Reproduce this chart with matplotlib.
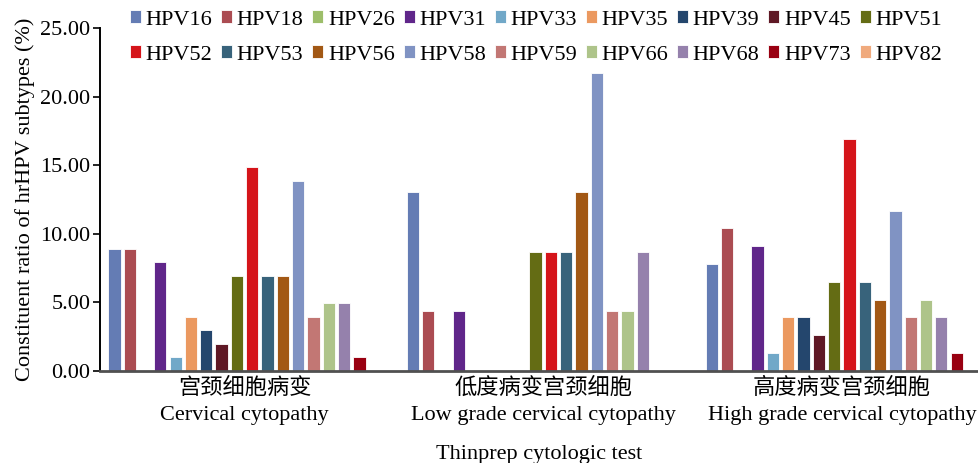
import matplotlib
matplotlib.use("Agg")
import matplotlib.pyplot as plt
import numpy as np

plt.rcParams["font.family"] = ["Liberation Serif", "Noto Sans CJK SC"]

categories = [
    "宫颈细胞病变\nCervical cytopathy",
    "低度病变宫颈细胞\nLow grade cervical cytopathy",
    "高度病变宫颈细胞\nHigh grade cervical cytopathy",
]
subtypes = ["HPV16", "HPV18", "HPV26", "HPV31", "HPV33", "HPV35", "HPV39", "HPV45", "HPV51",
            "HPV52", "HPV53", "HPV56", "HPV58", "HPV59", "HPV66", "HPV68", "HPV73", "HPV82"]
colors = ["#647CB4", "#AB4C52", "#9DBE6A", "#60268A", "#71A8C8", "#EB9960", "#24466D", "#5F1825",
          "#646C14", "#D5141A", "#38637B", "#A25814", "#8093C3", "#C27774", "#AEC48A", "#9581AC",
          "#990011", "#F0AA7D"]

# constituent ratio (%) per category, one entry per subtype
cervical = [8.91, 8.91, 0, 7.92, 0.99, 3.96, 2.97, 1.98, 6.93,
            14.85, 6.93, 6.93, 13.86, 3.96, 4.95, 4.95, 0.99, 0]
low_grade = [13.04, 4.35, 0, 4.35, 0, 0, 0, 0, 8.70,
             8.70, 8.70, 13.04, 21.74, 4.35, 4.35, 8.70, 0, 0]
high_grade = [7.79, 10.39, 0, 9.09, 1.30, 3.90, 3.90, 2.60, 6.49,
              16.88, 6.49, 5.19, 11.69, 3.90, 5.19, 3.90, 1.30, 0]

values = np.array([cervical, low_grade, high_grade])

fig = plt.figure(figsize=(9.79, 4.63), dpi=100)
ax = fig.add_axes([0.1021, 0.1987, 0.8979, 0.7408])

slot = 0.05127
x = np.arange(len(categories))
bars = []
for j, name in enumerate(subtypes):
    b = ax.bar(x + (j - 8.5) * slot, values[:, j], width=slot * 0.8, color=colors[j],
               edgecolor="white", linewidth=0.6, label=name)
    bars.append(b)

ax.set_xlim(-0.4843, 2.4594)
ax.set_ylim(0, 25)
ax.set_yticks(np.arange(0, 25.01, 5))
ax.set_yticklabels([f"{v:.2f}" for v in np.arange(0, 25.01, 5)], fontsize=16)
ax.set_xticks(x)
ax.set_xticklabels(categories, fontsize=16, linespacing=1.5)
ax.tick_params(axis="x", length=0, pad=5)
ax.tick_params(axis="y", direction="out", length=5, width=1.2, pad=2)

for side in ("top", "right"):
    ax.spines[side].set_visible(False)
ax.spines["left"].set_linewidth(1.4)
ax.spines["bottom"].set_linewidth(2)
ax.spines["bottom"].set_color("#505050")

ax.set_ylabel("Constituent ratio of hrHPV subtypes (%)", fontsize=16, labelpad=4)
ax.set_xlabel("Thinprep cytologic test", fontsize=16, labelpad=14)

# legend fills row by row: interleave the two rows for matplotlib's column order
order = [k for pair in zip(range(9), range(9, 18)) for k in pair]
fig.legend([bars[k] for k in order], [subtypes[k] for k in order],
           loc="upper left", bbox_to_anchor=(130 / 979, 1 - 10 / 463), ncol=9,
           frameon=False, fontsize=16, handlelength=0.5, handleheight=0.55,
           handletextpad=0.2, columnspacing=0.4, labelspacing=0.7,
           borderpad=0, borderaxespad=0)

fig.savefig("out.png", dpi=100)
